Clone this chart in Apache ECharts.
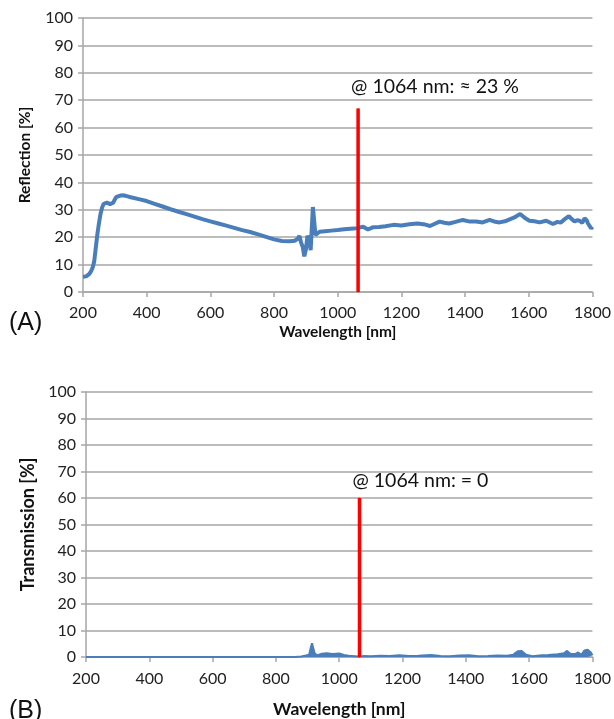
<!DOCTYPE html>
<html>
<head>
<meta charset="utf-8">
<script src="https://cdn.jsdelivr.net/npm/echarts@6/dist/echarts.min.js"></script>
<style>
html,body{margin:0;padding:0;background:#fff;}
#chart{width:614px;height:719px;}
</style>
</head>
<body>
<div id="chart"></div>
<script>
// Reflection spectrum (panel A)
const reflWavelength = [200,205,210,215,220,225,230,235,240,245,250,255,260,265,270,275,280,285,290,295,300,305,310,320,330,340,350,375,400,425,450,475,500,525,550,575,600,625,650,675,700,725,750,775,800,825,850,865,875,880,885,890,895,900,905,910,915,918,922,926,930,935,943,960,980,1000,1020,1040,1060,1080,1095,1110,1130,1150,1175,1200,1225,1250,1275,1290,1305,1320,1335,1350,1370,1393,1415,1435,1455,1477,1495,1508,1525,1540,1555,1573,1588,1602,1618,1634,1655,1676,1690,1700,1712,1726,1735,1744,1752,1760,1768,1775,1782,1786,1792,1796,1800];
const reflValue = [5.6,5.5,5.7,6.0,6.6,7.5,8.8,11,16,21,25,28.5,30.8,32.2,32.7,32.6,32.2,32.1,32.3,32.6,33.8,34.7,35.1,35.3,35.2,34.9,34.6,33.9,33.2,32.2,31.2,30.2,29.3,28.4,27.5,26.6,25.8,25.0,24.2,23.4,22.6,21.9,21.0,20.1,19.2,18.6,18.5,18.7,19.5,20.5,18.0,16.5,13.0,15.5,20.5,19.0,15.3,22,31.0,26,20.8,21.5,22.0,22.2,22.4,22.6,22.9,23.1,23.3,23.8,22.8,23.6,23.7,24.0,24.5,24.3,24.7,25.0,24.6,24.1,24.9,25.7,25.3,25.0,25.6,26.3,25.7,25.7,25.4,26.3,25.6,25.4,25.8,26.5,27.2,28.5,27.0,26.0,25.8,25.4,26.0,24.8,25.6,25.3,26.5,27.7,26.6,25.7,26.2,26.0,25.2,26.9,26.2,25.0,24.8,23.2,23.8];

// Transmission spectrum (panel B)
const transWavelength = [200,400,600,800,860,880,895,905,910,914,918,922,930,945,960,980,1000,1015,1030,1060,1080,1100,1130,1160,1190,1220,1250,1290,1320,1350,1380,1410,1440,1470,1500,1530,1550,1565,1575,1590,1610,1640,1660,1690,1710,1720,1730,1745,1755,1765,1775,1785,1795,1800];
const transValue = [0,0,0,0,0,0.2,0.6,0.9,3.5,5.2,4.8,1.5,0.6,1.2,1.4,1.1,1.3,0.8,0.5,0.2,0.4,0.3,0.5,0.4,0.7,0.4,0.5,0.8,0.4,0.3,0.6,0.7,0.3,0.4,0.6,0.5,0.9,2.2,2.3,0.9,0.3,0.7,0.8,1.0,1.4,2.3,1.2,1.1,1.7,0.8,2.5,2.7,1.7,0.7];

// Marker at 1064 nm
const markWavelength = 1064;
const reflMarkTop = 67;
const transMarkTop = 60;
const reflMarkText = '@ 1064 nm: ≈ 23 %';
const transMarkText = '@ 1064 nm: = 0';

// Axes
const xMin = 200, xMax = 1800, xStep = 200;
const yMin = 0, yMax = 100, yStep = 10;

const FONT = 'Lato, "Noto Sans", sans-serif';
const gridGray = '#a6a6a6';
const blue = '#4a7ebb';

function zip(a, b){ return a.map((v,i)=>[v,b[i]]); }

function xAxis(gridIndex, nfs, gap, lm){
  return {
    type:'value', gridIndex, min:xMin, max:xMax, interval:xStep,
    name:'Wavelength [nm]', nameLocation:'middle', nameGap:gap,
    nameTextStyle:{fontFamily:FONT, fontWeight:'bold', fontSize:nfs, color:'#111'},
    axisLine:{show:true, lineStyle:{color:gridGray, width:1.5}},
    axisTick:{show:true, length:5, lineStyle:{color:gridGray, width:1.5}},
    axisLabel:{fontFamily:FONT, fontSize:16, color:'#222', margin:lm, formatter:(v)=>String(v)},
    splitLine:{show:false}
  };
}
function yAxis(gridIndex, name, nfs, gap){
  return {
    type:'value', gridIndex, min:yMin, max:yMax, interval:yStep,
    name, nameLocation:'middle', nameGap:gap,
    nameTextStyle:{fontFamily:FONT, fontWeight:'bold', fontSize:nfs, color:'#111'},
    axisLine:{show:true, lineStyle:{color:gridGray, width:1.5}},
    axisTick:{show:true, length:5, lineStyle:{color:gridGray, width:1.5}},
    axisLabel:{fontFamily:FONT, fontSize:16, color:'#222', margin:10},
    splitLine:{show:true, lineStyle:{color:gridGray, width:1.5}}
  };
}
function marker(idx, top, text, fs, off){
  return {
    type:'line', xAxisIndex:idx, yAxisIndex:idx, z:5,
    data:[[markWavelength,0],{value:[markWavelength,top],
      label:{show:true, formatter:text, position:'top', align:'left',
        offset:off, fontFamily:FONT, fontSize:fs, color:'#111'}}],
    symbol:'circle', symbolSize:1, itemStyle:{color:'#ff0000'},
    lineStyle:{color:'#ff0000', width:3.5}, animation:false
  };
}

const chart = echarts.init(document.getElementById('chart'), null, {renderer:'canvas'});
chart.setOption({
  animation:false,
  backgroundColor:'#fff',
  title:[
    {text:'(A)', left:4, top:306, textStyle:{fontFamily:'"Liberation Sans", Arial, sans-serif', fontSize:25, fontWeight:'normal', color:'#111'}},
    {text:'(B)', left:4, top:694, textStyle:{fontFamily:'"Liberation Sans", Arial, sans-serif', fontSize:25, fontWeight:'normal', color:'#111'}}
  ],
  grid:[
    {left:83, right:21, top:18, height:274},
    {left:86, right:21, top:392, height:268}
  ],
  xAxis:[xAxis(0,15.5,32,13), xAxis(1,17.5,43,14)],
  yAxis:[yAxis(0,'Reflection [%]',15.5,50), yAxis(1,'Transmission [%]',18,46)],
  series:[
    {type:'line', xAxisIndex:0, yAxisIndex:0, data:zip(reflWavelength, reflValue),
     showSymbol:false, lineStyle:{color:blue, width:4}, z:3},
    {type:'line', xAxisIndex:1, yAxisIndex:1, data:zip(transWavelength, transValue),
     showSymbol:false, lineStyle:{color:blue, width:2}, areaStyle:{color:blue, opacity:1}, z:3},
    marker(0, reflMarkTop, reflMarkText, 19.5, [-7,-6]),
    marker(1, transMarkTop, transMarkText, 19.5, [-7,-2])
  ]
});
</script>
</body>
</html>
